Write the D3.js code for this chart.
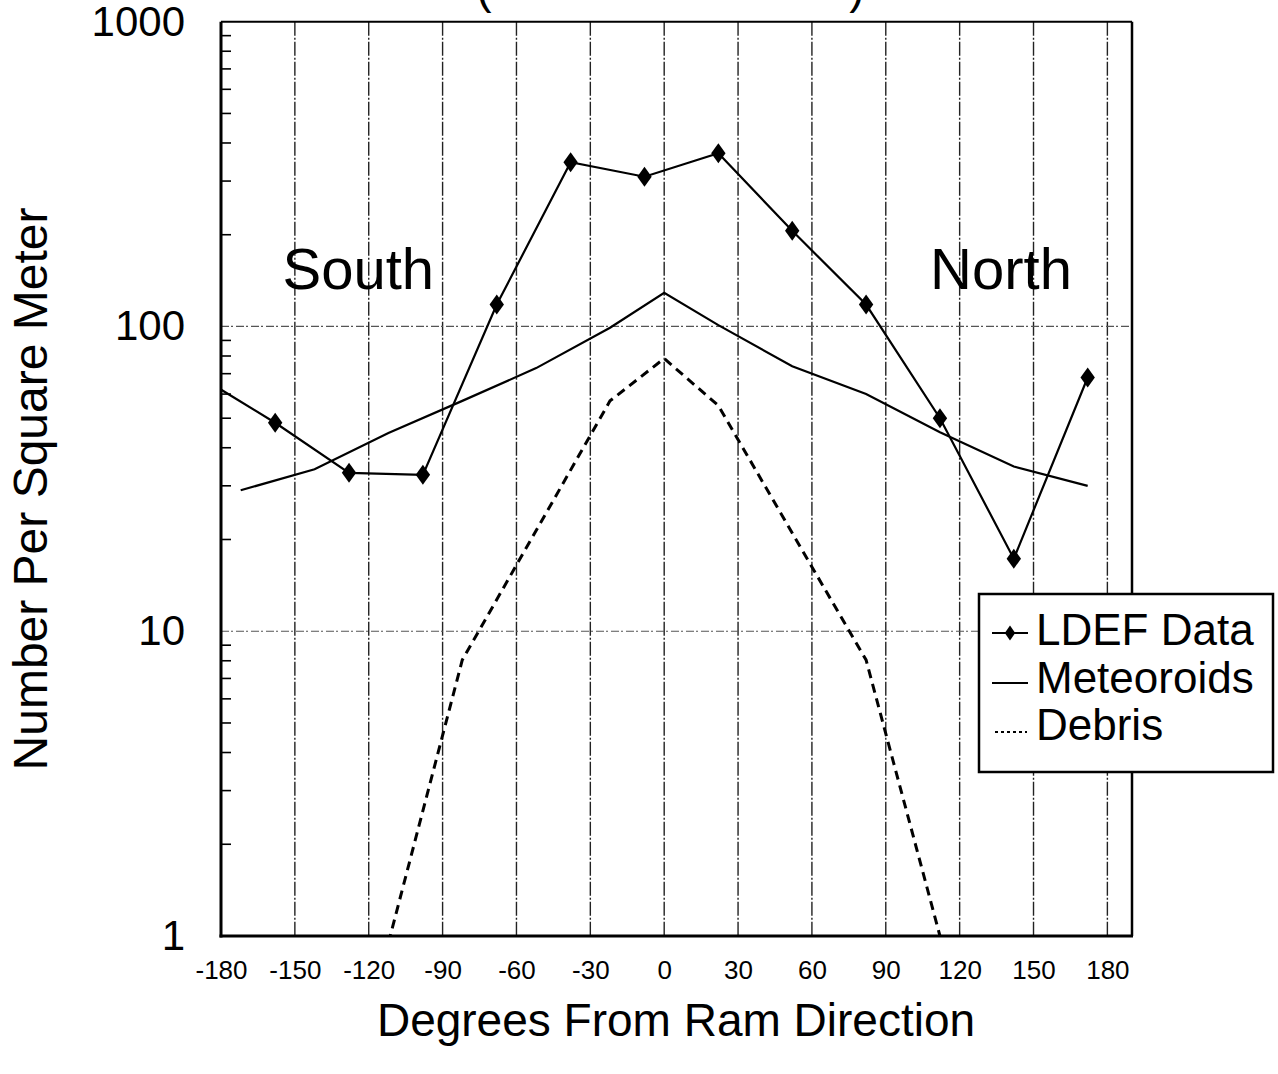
<!DOCTYPE html>
<html>
<head>
<meta charset="utf-8">
<script src="https://cdn.jsdelivr.net/npm/d3@7"></script>
<style>
  html, body { margin: 0; padding: 0; background: #fff; }
  svg { display: block; }
  text { font-family: "Liberation Sans", Arial, Helvetica, sans-serif; fill: #000; }
</style>
</head>
<body>
<svg id="chart" width="1278" height="1074"></svg>
<script>
// ---- data ----
const ldefAngles = [-158, -128, -98, -68, -38, -8, 22, 52, 82, 112, 142, 172];
const ldefValues = [48.3, 33.1, 32.6, 118, 346, 310, 370, 206, 118, 50, 17.3, 68];

const modelAngles = [-172, -142, -112, -82, -52, -22, 0, 22, 52, 82, 112, 142, 172];
const meteoroidValues = [29, 34, 44.7, 57, 73, 99, 129, 101, 74, 60, 45, 34.7, 30];

const debrisAngles = [-112, -82, -52, -22, 0, 22, 52, 82, 112];
const debrisValues = [0.95, 8.05, 21.4, 57, 78.5, 55, 21, 8.05, 1.0];

const xTickValues = [-180, -150, -120, -90, -60, -30, 0, 30, 60, 90, 120, 150, 180];
const yTickValues = [1, 10, 100, 1000];
const yGridValues = [10, 100];

const xTitle = "Degrees From Ram Direction";
const yTitle = "Number Per Square Meter";
const regionLabels = [{text: "South", angle: -155}, {text: "North", angle: 108}];
const legendItems = ["LDEF Data", "Meteoroids", "Debris"];

(function () {
// ---- layout ----
const svg = d3.select("#chart");
const pL = 221, pR = 1132, pT = 21.7, pB = 936;
const x = d3.scaleLinear().domain([-180, 190]).range([pL, pR]);
const y = d3.scaleLog().domain([1, 1000]).range([pB, pT]);

svg.append("defs").append("clipPath").attr("id", "plotClip")
  .append("rect").attr("x", pL).attr("y", pT)
  .attr("width", pR - pL).attr("height", pB - pT);

// partially visible title parentheses (cut at top in the source)
svg.append("text").attr("x", 484).attr("y", 3).attr("font-size", 46).attr("text-anchor", "middle").text("(");
svg.append("text").attr("x", 857).attr("y", 3).attr("font-size", 46).attr("text-anchor", "middle").text(")");

// vertical grid
svg.append("g").selectAll("line")
  .data(xTickValues.filter(d => d > -180))
  .join("line")
  .attr("x1", d => x(d)).attr("x2", d => x(d))
  .attr("y1", pT).attr("y2", pB)
  .attr("stroke", "#222").attr("stroke-width", 1.4)
  .attr("stroke-dasharray", "14,2,2,2");

// horizontal grid
svg.append("g").selectAll("line")
  .data(yGridValues)
  .join("line")
  .attr("x1", pL).attr("x2", pR)
  .attr("y1", d => y(d)).attr("y2", d => y(d))
  .attr("stroke", "#555").attr("stroke-width", 1.2)
  .attr("stroke-dasharray", "8,2,2,3");

// minor ticks on the y axis
const minor = [];
[1, 10, 100].forEach(dec => { for (let k = 2; k <= 9; k++) minor.push(k * dec); });
svg.append("g").selectAll("line")
  .data(minor)
  .join("line")
  .attr("x1", pL).attr("x2", pL + 10)
  .attr("y1", d => y(d)).attr("y2", d => y(d))
  .attr("stroke", "#000").attr("stroke-width", 1.6);

// frame
svg.append("line").attr("x1", pL).attr("x2", pR).attr("y1", pT).attr("y2", pT)
  .attr("stroke", "#000").attr("stroke-width", 2);
svg.append("line").attr("x1", pR).attr("x2", pR).attr("y1", pT).attr("y2", pB)
  .attr("stroke", "#000").attr("stroke-width", 2.5);
svg.append("line").attr("x1", pL).attr("x2", pL).attr("y1", pT).attr("y2", pB + 1.5)
  .attr("stroke", "#000").attr("stroke-width", 3);
svg.append("line").attr("x1", pL - 1.5).attr("x2", pR + 1).attr("y1", pB).attr("y2", pB)
  .attr("stroke", "#000").attr("stroke-width", 3);

// axes labels via d3 axes
const yAxis = svg.append("g").attr("transform", `translate(${pL},0)`)
  .call(d3.axisLeft(y).tickValues(yTickValues).tickFormat(d => String(d)).tickSize(0).tickPadding(36));
yAxis.select(".domain").remove();
yAxis.selectAll("text").attr("font-size", 42)
  .attr("font-family", "'Liberation Sans', Arial, sans-serif").attr("fill", "#000");

const xAxis = svg.append("g").attr("transform", `translate(0,${pB})`)
  .call(d3.axisBottom(x).tickValues(xTickValues).tickFormat(d => String(d)).tickSize(0).tickPadding(25));
xAxis.select(".domain").remove();
xAxis.selectAll("text").attr("font-size", 26)
  .attr("font-family", "'Liberation Sans', Arial, sans-serif").attr("fill", "#000");

// axis titles
svg.append("text").attr("x", 676).attr("y", 1036).attr("text-anchor", "middle")
  .attr("font-size", 46).text(xTitle);
svg.append("text").attr("transform", "translate(47,489) rotate(-90)").attr("text-anchor", "middle")
  .attr("font-size", 48).text(yTitle);

// region labels
svg.append("g").selectAll("text").data(regionLabels).join("text")
  .attr("x", d => x(d.angle)).attr("y", 289).attr("font-size", 58).text(d => d.text);

// ---- series ----
const plot = svg.append("g").attr("clip-path", "url(#plotClip)");
const line = d3.line().x(d => x(d[0])).y(d => y(d[1]));

// debris
plot.append("path")
  .datum(debrisAngles.map((a, i) => [a, debrisValues[i]]))
  .attr("d", line).attr("fill", "none").attr("stroke", "#000")
  .attr("stroke-width", 3).attr("stroke-dasharray", "9,6");

// meteoroids
plot.append("path")
  .datum(modelAngles.map((a, i) => [a, meteoroidValues[i]]))
  .attr("d", line).attr("fill", "none").attr("stroke", "#000").attr("stroke-width", 2.2);

// LDEF data (wraps around from +172 to -188 at the left edge)
const ldefPts = ldefAngles.map((a, i) => [a, ldefValues[i]]);
const last = ldefPts[ldefPts.length - 1];
const ldefLinePts = [[last[0] - 360, last[1]], ...ldefPts];
plot.append("path")
  .datum(ldefLinePts)
  .attr("d", line).attr("fill", "none").attr("stroke", "#000").attr("stroke-width", 2.2);

const diamond = "M0,-10L7.2,0L0,10L-7.2,0Z";
plot.append("g").selectAll("path").data(ldefPts).join("path")
  .attr("d", diamond)
  .attr("transform", d => `translate(${x(d[0])},${y(d[1])})`)
  .attr("fill", "#000");

// ---- legend ----
const lg = svg.append("g");
lg.append("rect").attr("x", 979).attr("y", 594).attr("width", 294).attr("height", 178)
  .attr("fill", "#fff").attr("stroke", "#000").attr("stroke-width", 2.5);
const rowBase = [645, 693, 740];
const rowMid = [633, 683, 732];
lg.selectAll("text.item").data(legendItems).join("text").attr("class", "item")
  .attr("x", 1036).attr("y", (d, i) => rowBase[i]).attr("font-size", 44).text(d => d);
// LDEF symbol
lg.append("line").attr("x1", 992).attr("x2", 1028).attr("y1", rowMid[0]).attr("y2", rowMid[0])
  .attr("stroke", "#000").attr("stroke-width", 2);
lg.append("path").attr("d", "M0,-7.5L5.2,0L0,7.5L-5.2,0Z")
  .attr("transform", `translate(1010,${rowMid[0]})`).attr("fill", "#000");
// Meteoroids symbol
lg.append("line").attr("x1", 992).attr("x2", 1028).attr("y1", rowMid[1]).attr("y2", rowMid[1])
  .attr("stroke", "#000").attr("stroke-width", 2);
// Debris symbol
lg.append("line").attr("x1", 995).attr("x2", 1027).attr("y1", rowMid[2]).attr("y2", rowMid[2])
  .attr("stroke", "#000").attr("stroke-width", 2.2).attr("stroke-dasharray", "3,3");
})();
</script>
</body>
</html>
